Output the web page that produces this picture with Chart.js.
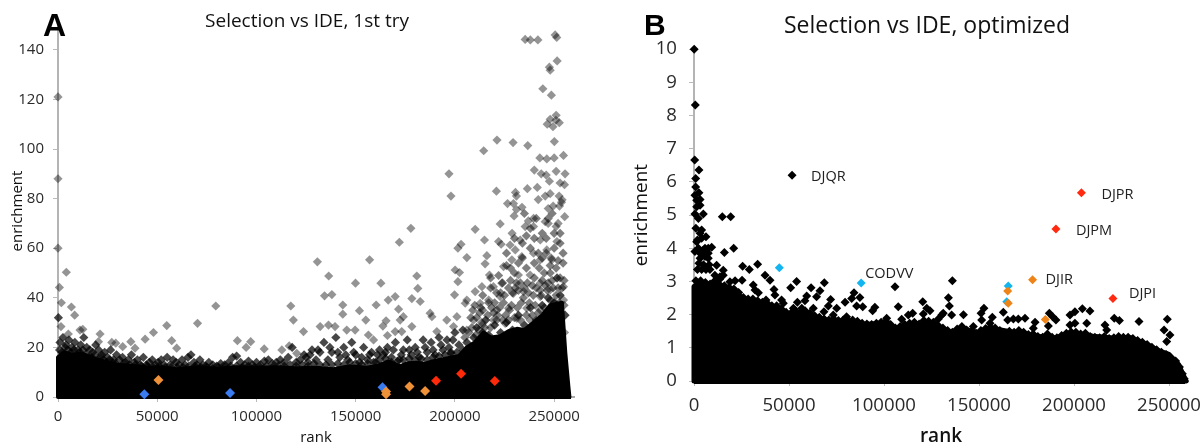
<!DOCTYPE html>
<html>
<head>
<meta charset="utf-8">
<script src="https://cdn.jsdelivr.net/npm/chart.js@4"></script>
<style>
  html, body { margin: 0; padding: 0; background: #fff; width: 1202px; height: 442px; overflow: hidden; }
  canvas { position: absolute; top: 0; }
  #chartA { left: 0; }
  #chartB { left: 620px; }
</style>
</head>
<body>
<canvas id="chartA" width="614" height="442"></canvas>
<canvas id="chartB" width="614" height="442"></canvas>
<script>
const rankTicks = [0, 50000, 100000, 150000, 200000, 250000];
const enrichTicksA = [0, 20, 40, 60, 80, 100, 120, 140];
const enrichTicksB = [0, 1, 2, 3, 4, 5, 6, 7, 8, 9, 10];

// panel A, solid black mass read as an upper outline [rank, enrichment]
const massA = [[0,0],[0,16],[3000,18],[8000,17],[12000,17.5],[20000,15],[25000,14],[30000,13],[38000,12.5],[45000,11.8],[52000,12],[60000,11.2],[70000,12],[80000,11.4],[90000,12],[100000,11.8],[110000,12],[120000,11.6],[130000,11.8],[138800,11.2],[147000,12.4],[155600,11.8],[161000,12.6],[166500,14.4],[172400,12.4],[176000,13.6],[180800,13.8],[185000,13.4],[189200,14.4],[197600,15.8],[202000,16.5],[206000,20],[210000,22],[214400,26],[218000,24],[222800,24.5],[227000,26.5],[231200,27.5],[235000,27],[239600,30],[244000,33],[248000,37],[253900,38],[255600,18],[257200,4],[257700,0]];
const baseA = [[0,0],[258500,0]];

const greyA = [
  [235400,144.2],[238000,144],[241800,144],[250500,146],[251300,145],[251500,135.5],[247600,133],[248000,131.8],[244300,124.3],[248600,121.7],
  [251000,113.6],[248000,112],[246500,110],[252600,110.6],[249400,109],[250900,111.6],[250100,103],[221200,103.6],[229300,102.6],[236700,101.4],[214500,99.3],
  [242800,96.4],[246300,96],[250000,96.4],[254700,97.4],[197000,90],[198000,81],[220900,83],[240000,91.5],[243500,90],[246000,89.5],[251000,91],[255500,90],
  [247600,87],[253000,86.3],[255200,85.6],[236500,84],[241500,84.5],[230500,82.5],[231000,81],[248000,82],[245500,81],[242000,79.6],[252500,81],[254000,79.5],[253700,78.5],
  [226500,78],[229500,78],[233800,76.5],[231000,75.6],[247000,76],[249500,77],[252700,77],[229800,73],[237000,71],[239600,72],[255300,72.7],[247000,70],[252000,70],
  [177800,68],[172000,62.4],[130700,54.5],[157000,55.3],[136400,48.8],[149900,45.9],[162700,45.9],[180800,48.8],[181300,43.8],[134300,40.8],[138000,41.3],[143500,37.1],
  [151900,34.8],[160300,37.1],[166400,39.1],[169900,40.5],[178300,39.7],[182500,38.5],[171600,35.4],[143500,33.4],[155100,31],[165300,30.7],[163700,28.6],[123700,26.4],
  [132100,28.4],[136300,29],[139600,28.4],[145500,27],[149700,27],[156400,25],[159000,23],[166000,24.8],[169900,26.4],[173200,26.4],[178300,28.4],[172400,31],[174000,32.4],
  [187500,33.8],[188400,32.4],[195900,31],[201000,32.4],[199300,28.4],[190900,26.4],[200100,51.2],[202300,50.2],[201500,46.5],[199800,41.2],[206000,39.1],[205200,37.8],
  [201500,60],[203100,61.6],[210200,67.6],[222800,69.8],[214900,63.3],[222000,62.7],[223300,61.6],[216100,57],[206000,56.2],[215200,53.7],[217400,49.2],[228800,66],[227800,61.3],
  [230400,59.3],[235400,68.7],[232900,63.3],[239600,68.7],[245500,70.7],[251000,68.7],[243000,63.3],[251400,62.7],[246300,59.3],[239600,58],[233700,56.6],[228700,55.3],[224500,52.6],
  [232000,49.2],[237900,49.2],[251400,47.9],[248800,55.3],[243000,55.3],[254700,44.5],[243000,45.9],[223600,45.9],[219400,44.5],[213600,44.5],[210200,42.5],[217000,39.1],[222800,40.5],
  [229500,41.8],[234600,42.5],[248000,43.2],[243000,40.5],[254700,39.1],[249700,38.5],[212700,37.8],[221100,35.1],[227000,35.8],[236200,35.8],[243000,35.1],[255200,26],[209400,31],
  [213600,29],[219400,31],[225300,29.7],[231200,31.7],[237900,31],[243800,31.7],[206000,27],
  [0,121],[0,88],[0,60],[4200,50.3],[700,44.2],[1700,38],[6750,36.3],[8400,33],[1500,28.4],[11100,27],[12500,27.3],[5200,25.4],[21200,25.4],[20400,22.3],[27100,22],[29100,21.7],
  [32600,20.3],[36700,22.3],[38800,19.7],[43900,23.3],[48100,26],[54800,28.8],[57300,22.7],[59800,19.7],[70300,29.7],[79500,36.7],[90400,22.7],[97100,22.3],[94800,20],[103900,19.4],
  [117300,36.7],[118600,31],[112800,19],[116500,20.6],[120300,17.6]
];
// darker overlapping marks above the mass
const denseA = [
  [200,32],[1000,22],[2500,24],[4000,21],[5500,23],[7000,20],[8500,22],[10000,19],[11500,21],[13000,24],[14500,20],[16000,19],[17500,18],[19000,21],[20500,19],[22000,17],[23500,18],[25000,16],[26500,19],[28000,15],
  [29500,17],[31000,15],[32500,16],[34000,14],[35500,15],[37000,17],[38500,14],[40000,15],[41500,13],[43000,16],[44500,13],[46000,14],[47500,15],[49000,13],[50500,14],[52000,15],[53500,13],[55000,16],[56500,13],[58000,15],
  [59500,14],[61000,13],[62500,15],[64000,13],[65500,16],[67000,17],[68500,14],[70000,13],[71500,15],[73000,13],[74500,12.5],[76000,14],[78000,13],[80000,12.5],[82000,13.5],[84000,13],[86000,14],[88000,16],[90000,16.5],[92000,14],
  [94000,13],[96000,14.5],[98000,13],[100000,14],[102000,13],[104000,14.5],[106000,15],[108000,13.5],[110000,14],[112000,15],[114000,14],[116000,16],[118000,20],[120000,14],
  [122000,15],[124000,17],[126000,14],[128000,19],[130000,15],[132000,18],[134000,22],[136000,15],[138000,18],[140000,24],[142000,16],[144000,20],[146000,15],[148000,22],[150000,17],[152000,14],[154000,20],[156000,15],[158000,18],[160000,14],
  [162000,19],[164000,17],[166000,20],[168000,16],[170000,22],[172000,15],[174000,19],[176000,23],[178000,17],[180000,20],[182000,16],[184000,23],[186000,18],[188000,22],[190000,17],[192000,24],[194000,19],[196000,23],[198000,18],[200000,26],
  [202000,21],[204000,27],[206000,22],[209500,24],[211000,28],[214000,26],[215500,31],[217000,25],[220000,29],[223000,26],[226000,30],[229000,27],[232000,33],[235000,29],[238000,36],[241000,31],[244000,37],[247000,40],[250000,38],[253000,41],[255500,33],
  // second pass, low band across the whole rank range
  [800,19],[2000,18],[3500,20],[5000,19],[6500,18],[8000,19],[9500,17],[11000,18],[12500,19],[14000,17],[15500,16],[17000,16],[18500,17],[20000,15],[21500,16],[23000,15],[24500,14],[26000,15],[27500,14],[29000,13.5],
  [33000,13.5],[36000,13],[39000,13],[42000,12.5],[45000,12.5],[48000,12],[51000,12.5],[54000,12],[57000,12],[60000,12],[63000,12],[66000,12.5],[69000,12.5],[72000,12],[75000,12],[78000,11.5],[81000,12],[84000,12],[87000,12.5],[90000,12.5],
  [93000,12],[96000,12.5],[99000,12],[102000,12],[105000,12.5],[108000,12],[111000,12.5],[114000,12.5],[117000,13],[120000,12.5],[123000,13],[126000,12.5],[129000,13.5],[132000,13],[135000,13],[138000,13],[141000,13.5],[144000,13],[147000,14],[150000,13.5],
  [153000,13],[156000,13.5],[159000,14],[162000,15],[165000,15.5],[168000,14],[171000,14.5],[174000,15],[177000,15.5],[180000,15],[183000,15.5],[186000,15],[189000,16],[192000,16.5],[195000,17],[198000,17.5],[201000,18],[204000,19],
  [125000,16],[127000,17],[131000,19],[137000,20],[141000,18],[145000,17],[149000,18],[153000,16],[157000,17],[161000,17],[165000,18],[169000,19],[173000,17],[177000,19],[181000,18],[185000,20],[189000,19],[193000,21],[197000,20],[199000,23]
];
// lighter overlapping marks on the high rank side
const highA = [
  [208000,32],[212500,34],[218500,36],[221500,33],[224500,38],[227500,35],[230500,44],[233500,38],[236500,46],[239500,41],[242500,52],[245500,45],[248500,56],[251500,48],[254500,54],
  [210000,37],[214000,41],[218000,44],[222000,49],[226000,53],[230000,50],[234000,56],[238000,60],[242000,58],[246000,64],[250000,60],[253000,66],[236000,65],[228000,47],[240000,48],[244000,47],[248000,50],[252000,44],[220000,38],[232000,43],
  [205000,24],[207000,26],[208500,28],[210500,25],[212000,27],[213500,30],[215000,28],[216500,33],[218000,28],[219500,34],[221000,31],[222500,36],[224000,31],[225500,33],[227000,31],[228500,37],[230000,32],[231500,36],[233000,31],[234500,40],
  [236000,33],[237500,38],[239000,33],[240500,37],[242000,34],[243500,41],[245000,36],[246500,43],[248000,39],[249500,44],[251000,41],[252500,38],[254000,44],[255000,37],[209000,35],[213000,36],[217000,38],[221000,42],[225000,41],[229000,42],
  [233000,46],[237000,42],[241000,44],[245000,50],[249000,47],[253000,48],[255000,47],[224000,46],[228000,52],[232000,54],[236000,52],[240000,54],[244000,56],[248000,53],[252000,55],[254500,58],[234000,62],[240000,64],[246000,58],[250000,66],
  [226000,58],[230000,64],[238000,68],[244000,66],[247000,72],[253000,62],[241000,72],[235000,74],[249000,74],[218000,48],[214000,35],[211000,32],[223000,42],[227000,44],[231000,46],[235000,44],[239000,45],[243000,43],[247000,46],[251000,52]
];
const blueA = [[43500,1.1],[86700,1.6],[163500,3.9]];
const orangeA = [[50600,6.9],[165300,2.2],[165300,1.1],[177100,4.2],[185000,2.4]];
const redA = [[190500,6.6],[203100,9.4],[220100,6.5]];

// panel B
const massB = [[0,0],[0,2.85],[3000,2.95],[8000,2.85],[12000,3.0],[17000,2.75],[22000,2.7],[27000,2.4],[32000,2.4],[37000,2.3],[43000,2.2],[50000,2.0],[55000,1.96],[60000,2.0],[70000,1.8],[80000,1.8],[90000,1.7],[100000,1.75],[105000,1.6],[115000,1.65],[125000,1.75],[135600,1.45],[140000,1.6],[150000,1.45],[160000,1.55],[170000,1.45],[180000,1.35],[190000,1.3],[200000,1.45],[210000,1.35],[220000,1.3],[230000,1.3],[240000,1.05],[245000,0.9],[250000,0.8],[255000,0.5],[258000,0.12],[259000,0]];
const baseB = [[0,0],[258500,0]];
const blackB = [
  [100,10],[700,8.32],[350,6.66],[2600,6.36],[900,6.1],[900,5.85],[500,5.6],[2600,5.67],[1400,5.45],[3200,5.47],[3200,5.3],[1400,5.25],[500,5.03],[4900,5.03],[14900,4.95],[19300,4.95],[2300,4.9],
  [51600,6.2],[4000,4.55],[6300,4.35],[1400,4.2],[9300,4.03],[7500,4],[16000,3.87],[20900,4],[3200,3.85],[5800,3.75],[7500,3.7],[11900,3.49],[1800,3.36],[4000,3.36],[6300,3.36],[8400,3.36],
  [15400,3.34],[25600,3.46],[29100,3.36],[33500,3.52],[37400,3.19],[40000,3.04],[54000,3],[50900,2.81],[31200,2.89],[32100,2.74],[33900,2.66],[42100,2.76],[42600,2.59],[61600,2.81],[68600,2.96],
  [66300,2.72],[64500,2.54],[59300,2.56],[58400,2.42],[54400,2.37],[71900,2.46],[70700,2.26],[79500,2.37],[84200,2.66],[83000,2.49],[87300,2.52],[85600,2.26],[88800,2.24],[95200,2.22],[94000,2.12],
  [105800,2.84],[107500,2.24],[109300,1.86],[112800,1.99],[18900,2.99],[21600,3.02],[25300,3.04],[13700,3.14],[11000,3.19],[15400,3.19],[47000,2.34],[46100,2.44],[37900,2.44],[52300,2.19],[56700,2.19],
  [62800,2.19],[68400,2.09],[75100,2.19],[73300,1.99],[80300,1.94],[101400,1.89],
  [136000,3.02],[133900,2.51],[134400,2.26],[120400,2.39],[122500,2.19],[124200,2.12],[115100,2.04],[120700,2.02],[135600,1.99],[141800,2],[130400,1.99],[128600,1.87],[152600,2.19],[151100,2.04],[151400,1.84],
  [157000,1.92],[162800,2.07],[165100,1.84],[168100,1.87],[170700,1.87],[174200,1.89],[179500,1.77],[187000,2.04],[188800,1.94],[190500,1.84],[197900,1.99],[200500,2.09],[204400,2.18],[208400,2.11],
  [221200,1.89],[223900,1.82],[234200,1.79],[249100,1.86],[247400,1.54],[250500,1.39],[248800,1.19],[197900,1.69],[200500,1.74],[206700,1.74],[216300,1.69],[217200,1.54],[178600,1.59],[186500,1.66],
  [147000,1.64],[155800,1.74],[131200,2.04],
  [1800,4.25],[3200,4.45],[4000,4.3],[2300,4],[4900,3.95],[3200,3.7],[500,3.9],[5800,4],[7500,3.85],[1000,4.6],[2600,3.55],[5000,3.5],[8000,3.5]
];
// marks along the top of the mass, they give it the scalloped edge
const edgeB = [
  [1000,3.02],[3500,3.02],[6000,2.97],[8500,2.92],[11000,3.02],[13500,3.07],[16000,2.87],[18500,2.82],[21000,2.77],[23500,2.67],[26000,2.52],[28500,2.47],[31000,2.47],[33500,2.42],[36000,2.37],[38500,2.34],[41000,2.27],[43500,2.27],[46000,2.17],[48500,2.07],
  [51000,2.04],[53500,2.12],[56000,2.04],[58500,2.12],[61000,2.04],[63500,1.97],[66000,1.92],[68500,1.87],[71000,1.84],[73500,1.87],[76000,1.82],[78500,1.84],[81000,1.82],[83500,1.84],[86000,1.8],[88500,1.74],[91000,1.72],[93500,1.7],[96000,1.74],[98500,1.77],
  [101000,1.8],[103500,1.7],[106000,1.6],[108500,1.64],[111000,1.7],[113500,1.74],[116000,1.77],[118500,1.72],[121000,1.82],[123500,1.8],[126000,1.77],[128500,1.67],[131000,1.6],[133500,1.52],[136000,1.47],[138500,1.57],[141000,1.64],[143500,1.54],[146000,1.47],[148500,1.44],
  [151000,1.52],[153500,1.58],[156000,1.62],[158500,1.6],[161000,1.52],[163500,1.44],[166000,1.5],[168500,1.47],[171000,1.52],[173500,1.47],[176000,1.4],[178500,1.42],[181000,1.34],[183500,1.32],[186000,1.42],[188500,1.32],[191000,1.3],[193500,1.37],[196000,1.44],[198500,1.48],
  [201000,1.47],[203500,1.42],[206000,1.44],[208500,1.34],[211000,1.32],[213500,1.3],[216000,1.34],[218500,1.28],[221000,1.3],[223500,1.34],[226000,1.32],[228500,1.32],[231000,1.28],[233500,1.22],[236000,1.17],[238500,1.1],[241000,1.02],[243500,0.94],[246000,0.87],[248500,0.8],
  [251000,0.7],[253500,0.6],[255500,0.42],[257000,0.22],[258000,0.07]
];
const cyanB = [[44900,3.41],[88000,2.95],[165400,2.86],[164600,2.39]];
const orangeB = [[165100,2.71],[165400,2.34],[178200,3.05],[184900,1.85]];
const redB = [[203900,5.67],[190500,4.58],[220500,2.49]];

const pointNames = ['DJQR', 'DJPR', 'DJPM', 'CODVV', 'DJIR', 'DJPI'];
const namedPoints = [[51600,6.2],[203900,5.67],[190500,4.58],[88000,2.95],[178200,3.05],[220500,2.49]];
const nameOffsets = [[19,2],[20,2],[20,2],[4,-9],[13,0],[16,-5]];

const toXY = pts => pts.map(p => ({ x: p[0], y: p[1] }));

function diamonds(pts, color, radius, order) {
    return { data: toXY(pts), pointStyle: 'rectRot', pointRadius: radius, backgroundColor: color, borderWidth: 0, showLine: false, clip: false, order: order };
}

function outline(pts, color, width, order) {
    return { data: toXY(pts), showLine: true, fill: 'origin', pointRadius: 0, borderColor: color, borderWidth: width, backgroundColor: color, borderJoinStyle: 'round', borderCapStyle: 'round', clip: false, order: order };
}

function baseLine(pts, width, order) {
    return { data: toXY(pts), showLine: true, pointRadius: 0, borderColor: '#000', borderWidth: width, clip: false, order: order };
}

// panel title, panel letter and the point names, drawn on top of everything
const panelText = {
    id: 'panelText',
    afterDraw(chart, args, opts) {
        const ctx = chart.ctx;
        ctx.save();
        ctx.textBaseline = 'middle';
        ctx.fillStyle = '#111';
        ctx.textAlign = 'center';
        ctx.font = opts.titleFont;
        ctx.fillText(opts.title, opts.titleX, opts.titleY);
        ctx.textAlign = 'left';
        ctx.fillStyle = '#000';
        ctx.font = opts.letterFont;
        ctx.fillText(opts.letter, opts.letterX, opts.letterY);
        if (opts.names) {
            ctx.font = '14.5px "Open Sans"';
            ctx.fillStyle = '#222';
            pointNames.forEach((name, i) => {
                const x = chart.scales.x.getPixelForValue(namedPoints[i][0]);
                const y = chart.scales.y.getPixelForValue(namedPoints[i][1]);
                ctx.fillText(name, x + nameOffsets[i][0], y + nameOffsets[i][1]);
            });
        }
        ctx.restore();
    }
};

function makeChart(id, cfg) {
    return new Chart(document.getElementById(id), {
        type: 'scatter',
        data: { datasets: cfg.datasets },
        plugins: [panelText],
        options: {
            responsive: false,
            animation: false,
            events: [],
            layout: { padding: { top: cfg.topPad, right: cfg.rightPad, bottom: 0, left: 0 } },
            plugins: {
                legend: { display: false },
                tooltip: { enabled: false },
                panelText: cfg.text
            },
            scales: {
                x: {
                    type: 'linear',
                    min: 0,
                    max: 260000,
                    afterBuildTicks: axis => { axis.ticks = rankTicks.map(v => ({ value: v })); },
                    afterFit: axis => { axis.height = cfg.xHeight; },
                    border: { color: '#aaa', width: 2 },
                    grid: { drawOnChartArea: false, color: '#bbb', tickLength: 5 },
                    ticks: { autoSkip: false, maxRotation: 0, color: '#2a2a2a', padding: cfg.xPad, font: { family: 'Open Sans', size: cfg.tickSize }, callback: v => String(v) },
                    title: { display: true, text: 'rank', color: '#111', font: { family: 'Open Sans', size: cfg.axisSize, weight: cfg.rankWeight }, padding: { top: 0, bottom: cfg.rankPad } }
                },
                y: {
                    type: 'linear',
                    min: 0,
                    max: cfg.yMax,
                    afterBuildTicks: axis => { axis.ticks = cfg.yTicks.map(v => ({ value: v })); },
                    afterFit: axis => { axis.width = cfg.yWidth; },
                    border: { color: '#b4b4b4', width: 2 },
                    grid: { drawOnChartArea: false, color: '#bbb', tickLength: 5 },
                    ticks: { color: '#2a2a2a', padding: cfg.yPad, font: { family: 'Open Sans', size: cfg.tickSize }, callback: v => String(v) },
                    title: { display: true, text: 'enrichment', color: '#111', font: { family: 'Open Sans', size: cfg.axisSize }, padding: { top: cfg.enrichPad, bottom: 0 } }
                }
            }
        }
    });
}

makeChart('chartA', {
    topPad: 25,
    rightPad: 40,
    yMax: 150,
    yTicks: enrichTicksA,
    yWidth: 58,
    xHeight: 45,
    tickSize: 15,
    axisSize: 15,
    rankWeight: '500',
    rankPad: -5,
    enrichPad: 9,
    xPad: 6,
    yPad: 9,
    text: { title: 'Selection vs IDE, 1st try', titleFont: '19px "Open Sans"', titleX: 307, titleY: 22, letter: 'A', letterFont: 'bold 32px "Liberation Sans"', letterX: 43, letterY: 27, names: false },
    datasets: [
        outline(massA, '#000', 4, 7),
        baseLine(baseA, 4, 7),
        diamonds(denseA, 'rgba(0,0,0,0.72)', 4.6, 6),
        diamonds(highA, 'rgba(0,0,0,0.5)', 4.6, 5),
        diamonds(greyA, 'rgba(0,0,0,0.42)', 4.6, 4),
        diamonds(blueA, '#3a7bf0', 5, 3),
        diamonds(orangeA, '#ee9138', 5, 2),
        diamonds(redA, '#ff2a0a', 5, 1)
    ]
});

makeChart('chartB', {
    topPad: 49.2,
    rightPad: 46,
    yMax: 10,
    yTicks: enrichTicksB,
    yWidth: 74,
    xHeight: 61,
    tickSize: 18.6,
    axisSize: 19,
    rankWeight: '600',
    rankPad: -6,
    enrichPad: 10,
    xPad: 9,
    yPad: 12,
    text: { title: 'Selection vs IDE, optimized', titleFont: '23px "Open Sans"', titleX: 307, titleY: 26, letter: 'B', letterFont: 'bold 30px "Liberation Sans"', letterX: 24, letterY: 27, names: true },
    datasets: [
        outline(massB, '#000', 5, 6),
        baseLine(baseB, 6, 6),
        diamonds(edgeB, '#000', 4.5, 5),
        diamonds(blackB, '#000', 4.5, 4),
        diamonds(cyanB, '#12b5f0', 4.5, 3),
        diamonds(orangeB, '#ee8418', 4.5, 2),
        diamonds(redB, '#ff2a10', 4.5, 1)
    ]
});
</script>
</body>
</html>
